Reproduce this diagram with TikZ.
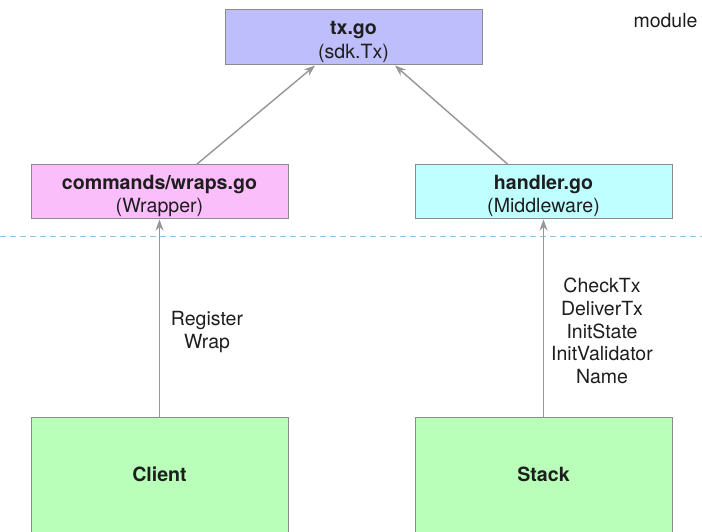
\documentclass[tikz,border=0pt]{standalone}
\usepackage{fontspec}
\setmainfont{TeX Gyre Heros}
\usetikzlibrary{arrows.meta}
\definecolor{txfill}{RGB}{190,190,252}
\definecolor{wrapfill}{RGB}{250,190,250}
\definecolor{handfill}{RGB}{192,255,255}
\definecolor{greenfill}{RGB}{185,255,185}
\definecolor{boxline}{RGB}{140,140,140}
\definecolor{arrline}{RGB}{150,150,150}
\definecolor{dashline}{RGB}{140,195,230}
\definecolor{txtcol}{RGB}{30,30,30}
\newcommand{\boxtext}[2]{\raisebox{-4.5pt}[\height][\depth]{\begin{tabular}{@{}c@{}}\textbf{#1}\\#2\end{tabular}}}
\tikzset{
  box/.style={draw=boxline, line width=1pt, minimum width=257pt, inner sep=0pt, text=txtcol, font=\fontsize{19.6}{23.5}\selectfont},
  arr/.style={draw=arrline, line width=1.4pt, -{Stealth[length=11pt,width=8pt]}},
  lbl/.style={align=center, text=txtcol, font=\fontsize{19.5}{22.6}\selectfont},
}
\begin{document}
\begin{tikzpicture}[x=1pt,y=-1pt]
\useasboundingbox (0,0) rectangle (702,532);
\clip (0,0) rectangle (702,532);
\fill[white] (0,0) rectangle (702,532);
% nodes
\node[box, fill=txfill, minimum height=55pt] (tx) at (353.5,37.5) {\boxtext{tx.go}{(sdk.Tx)}};
\node[box, fill=wrapfill, minimum height=54pt] (wrap) at (159.5,192) {\boxtext{commands/wraps.go}{(Wrapper)}};
\node[box, fill=handfill, minimum height=54pt] (hand) at (543.5,192) {\boxtext{handler.go}{(Middleware)}};
\node[box, fill=greenfill, minimum height=124pt] (client) at (159.5,479) {\raisebox{5pt}[\height][\depth]{\textbf{Client}}};
\node[box, fill=greenfill, minimum height=124pt] (stack) at (543.5,479) {\raisebox{5pt}[\height][\depth]{\textbf{Stack}}};
\node[lbl, anchor=north east] (mod) at (701,10) {module};
% dashed separator
\coordinate (dl) at (0,236);
\coordinate (dr) at (702,236);
\draw[dashline, line width=1pt, dash pattern=on 6pt off 4pt] (dl) -- (dr);
% arrows
\draw[arr] ([xshift=37pt]wrap.north) -- ([xshift=-38.5pt]tx.south);
\draw[arr] ([xshift=-35.5pt]hand.north) -- ([xshift=41.5pt]tx.south);
\draw[arr] (client.north) -- (wrap.south);
\draw[arr] (stack.north) -- (hand.south);
% labels
\node[lbl] (reg) at (207,332) {Register\\Wrap};
\node[lbl] (calls) at (602,331) {CheckTx\\DeliverTx\\InitState\\InitValidator\\Name};
\end{tikzpicture}
\end{document}
